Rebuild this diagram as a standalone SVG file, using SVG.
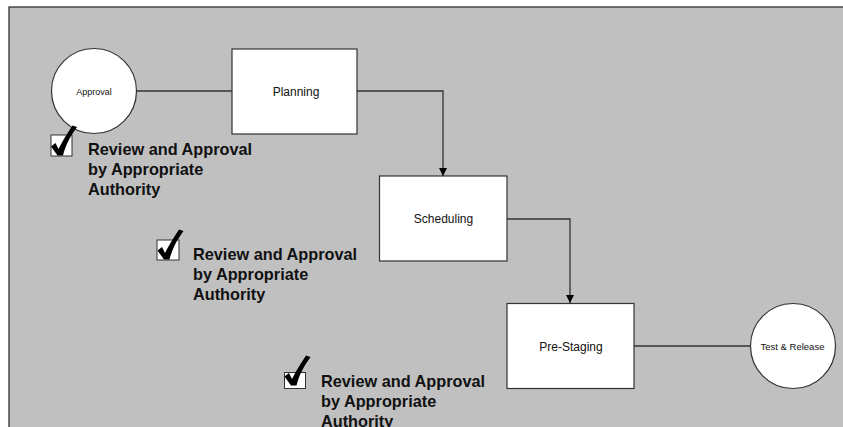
<svg xmlns="http://www.w3.org/2000/svg" width="843" height="427" viewBox="0 0 843 427">
  <defs>
    <marker id="arrow" viewBox="0 0 8 8" refX="8" refY="4" markerWidth="8" markerHeight="8" markerUnits="userSpaceOnUse" orient="auto">
      <path d="M0,0 L8,4 L0,8 Z" fill="#000"/>
    </marker>
    <!-- heavy tick mark, drawn relative to its bottom point -->
    <path id="tick" d="M-9,-7.5 L-4.5,-11 L-1.5,-5 C2.5,-13 7.5,-21 12.5,-28.5 L17,-27 C10.5,-18 5.5,-9 3,1.5 L-2.5,1.5 Z" fill="#000"/>
  </defs>
  <style>
    .box { fill: #fff; stroke: #333; stroke-width: 1.2; }
    .chk { fill: #fff; stroke: #333; stroke-width: 1; }
    .link { fill: none; stroke: #333; stroke-width: 1.3; }
    .label { font-family: "Liberation Sans", Arial, sans-serif; fill: #111; text-anchor: middle; }
    .note { font-family: "Liberation Sans", Arial, sans-serif; font-weight: bold; font-size: 16.3px; fill: #111; }
  </style>

  <rect x="0" y="0" width="843" height="427" fill="#fff"/>
  <rect x="9" y="7" width="840" height="430" fill="#c0c0c0" stroke="#222" stroke-width="1.2"/>

  <g id="connectors">
    <line class="link" x1="137" y1="91" x2="232" y2="91"/>
    <path class="link" d="M357,91 H443 V176" marker-end="url(#arrow)"/>
    <path class="link" d="M507,219 H570 V303" marker-end="url(#arrow)"/>
    <line class="link" x1="634" y1="346" x2="751" y2="346"/>
  </g>

  <g id="approval">
    <circle class="box" cx="94" cy="91" r="42.5"/>
    <text class="label" x="94" y="94.5" font-size="9">Approval</text>
  </g>

  <g id="planning">
    <rect class="box" x="232" y="49" width="125" height="85"/>
    <text class="label" x="296" y="96" font-size="12">Planning</text>
  </g>

  <g id="scheduling">
    <rect class="box" x="379.5" y="176" width="127.5" height="85"/>
    <text class="label" x="443.5" y="222.5" font-size="12">Scheduling</text>
  </g>

  <g id="pre-staging">
    <rect class="box" x="507" y="303.5" width="127" height="85"/>
    <text class="label" x="571" y="350.5" font-size="12">Pre-Staging</text>
  </g>

  <g id="test-release">
    <circle class="box" cx="793" cy="346" r="42.5"/>
    <text class="label" x="792.5" y="349.5" font-size="9.5">Test &amp; Release</text>
  </g>

  <g id="review-1">
    <rect class="chk" x="51" y="135" width="21" height="21"/>
    <use href="#tick" x="60" y="154"/>
    <text class="note" x="88" y="154.5">Review and Approval</text>
    <text class="note" x="88" y="174.5">by Appropriate</text>
    <text class="note" x="88" y="194.5">Authority</text>
  </g>

  <g id="review-2">
    <rect class="chk" x="157" y="240" width="22" height="20"/>
    <use href="#tick" x="166.5" y="258"/>
    <text class="note" x="193" y="259.5">Review and Approval</text>
    <text class="note" x="193" y="279.5">by Appropriate</text>
    <text class="note" x="193" y="299.5">Authority</text>
  </g>

  <g id="review-3">
    <rect class="chk" x="284.5" y="372.5" width="21" height="16"/>
    <use href="#tick" x="293.5" y="384"/>
    <text class="note" x="321" y="387">Review and Approval</text>
    <text class="note" x="321" y="407">by Appropriate</text>
    <text class="note" x="321" y="427">Authority</text>
  </g>
</svg>
